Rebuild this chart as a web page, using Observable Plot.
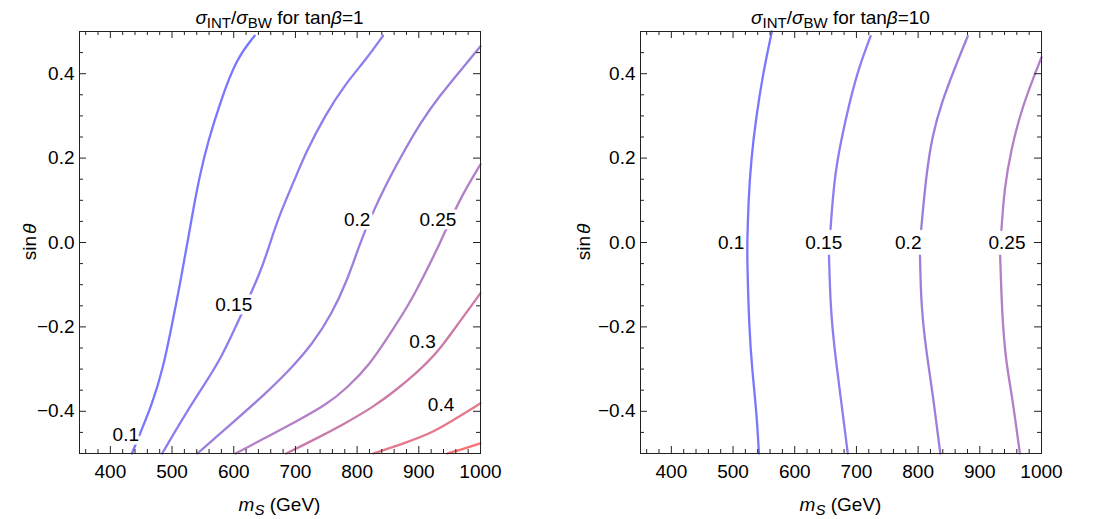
<!DOCTYPE html>
<html><head><meta charset="utf-8">
<script src="https://cdn.jsdelivr.net/npm/d3@7"></script>
<script src="https://cdn.jsdelivr.net/npm/@observablehq/plot@0.6"></script>
<style>
body{margin:0;background:#fff;}
#wrap{position:relative;width:1094px;height:519px;background:#fff;}
#wrap svg{position:absolute;top:0;}
</style></head><body><div id="wrap"></div>
<script>
// ---- tick values ----
const xTicks = [400, 500, 600, 700, 800, 900, 1000];
const xMinor = [360, 380, 420, 440, 460, 480, 520, 540, 560, 580, 620, 640, 660, 680, 720, 740, 760, 780, 820, 840, 860, 880, 920, 940, 960, 980];
const yTicks = [-0.4, -0.2, 0, 0.2, 0.4];
const yMinor = [-0.45, -0.35, -0.3, -0.25, -0.15, -0.1, -0.05, 0.05, 0.1, 0.15, 0.25, 0.3, 0.35, 0.45];
const levels = [0.1, 0.15, 0.2, 0.25, 0.3, 0.4, 0.5];

// ---- tanβ = 1 contours: [m_S (GeV), sinθ] ----
const L010 = [[435,-0.5],[448,-0.453],[468,-0.382],[486,-0.295],[499,-0.201],[513,-0.098],[525,0],[535,0.084],[545,0.159],[558,0.238],[578,0.332],[604,0.435],[634,0.49]];
const L015 = [[484,-0.5],[512,-0.43],[542,-0.359],[578,-0.28],[609,-0.181],[645,-0.066],[659,0],[676,0.072],[697,0.143],[717,0.214],[748,0.301],[779,0.372],[815,0.435],[842,0.49]];
const L020 = [[541,-0.5],[599,-0.426],[650,-0.36],[690,-0.303],[728,-0.24],[759,-0.169],[784,-0.09],[805,0],[822,0.06],[846,0.135],[872,0.206],[903,0.285],[934,0.348],[970,0.412],[1000,0.465]];
const L025 = [[603,-0.5],[655,-0.46],[700,-0.425],[750,-0.385],[785,-0.343],[820,-0.29],[850,-0.224],[885,-0.145],[910,-0.074],[935,0],[965,0.1],[1000,0.185]];
const L030 = [[685,-0.5],[728,-0.469],[779,-0.43],[826,-0.39],[862,-0.351],[898,-0.307],[931,-0.26],[965,-0.19],[1000,-0.12]];
const L040 = [[826,-0.5],[882,-0.473],[924,-0.449],[955,-0.422],[1000,-0.381]];
const L050 = [[946,-0.5],[975,-0.488],[1000,-0.476]];
const leftLabelText = ["0.1", "0.15", "0.2", "0.25", "0.3", "0.4"];
const leftLabelM = [425, 600, 800, 931, 906, 936];
const leftLabelS = [-0.457, -0.149, 0.054, 0.054, -0.235, -0.386];

// ---- tanβ = 10 contours ----
const R010 = [[542,-0.5],[538,-0.4],[531,-0.303],[526,-0.2],[523,-0.043],[523,0],[525,0.1],[529.5,0.2],[537.5,0.297],[548.5,0.4],[563,0.5]];
const R015a = [[658,0.032],[664,0.151],[674.5,0.238],[690,0.34],[705,0.419],[723,0.489]];
const R015b = [[686,-0.5],[674.5,-0.367],[664,-0.248],[658,-0.153],[655.5,-0.031]];
const R020a = [[805,0.032],[813,0.159],[823,0.254],[838.5,0.333],[859,0.412],[880.5,0.489]];
const R020b = [[836,-0.5],[823,-0.351],[813,-0.256],[805,-0.153],[803,-0.031]];
const R025a = [[935,0.03],[940,0.131],[950.5,0.218],[968,0.32],[1000,0.439]];
const R025b = [[965,-0.5],[952,-0.36],[942,-0.28],[936,-0.17],[933,-0.031]];
const rightLabelText = ["0.1", "0.15", "0.2", "0.25"];
const rightLabelM = [497, 647, 784, 944];
const rightLabelS = [0, 0, 0, 0];

const FONT = "'Liberation Sans', Arial, Helvetica, sans-serif";
const W = 547, H = 519, MT = 31, MB = 66;
const PH = H - MT - MB;
const lineColors = ["#7878ff", "#8a7ff0", "#9c7fdc", "#b37fc6", "#cc7aa6", "#e6788c", "#f87272"];
const frameColor = "#222";

function panel({pieces, lText, lM, lS, halo, marginLeft, marginRight}) {
  const PW = W - marginLeft - marginRight;
  const idx = lText.map((_, i) => i);
  return Plot.plot({
    width: W, height: H,
    marginTop: MT, marginBottom: MB, marginLeft, marginRight,
    style: {fontFamily: FONT, background: "white", color: "black"},
    x: {domain: [350, 1000], axis: null},
    y: {domain: [-0.5, 0.5], axis: null},
    color: {type: "ordinal", domain: levels, range: lineColors},
    marks: [
      ...pieces.map(p => Plot.line(p.pts, {x: d => d[0], y: d => d[1], stroke: () => p.lv, strokeWidth: 2.3, curve: "basis"})),
      Plot.text(idx, {x: i => lM[i], y: i => lS[i], text: i => lText[i], fontSize: 19, fill: "black",
        stroke: halo ? "white" : null, strokeWidth: halo ? 7 : 0, paintOrder: "stroke"}),
      Plot.ruleX(xMinor, {x: d => d, insetTop: PH - 4, stroke: frameColor}),
      Plot.ruleX(xMinor, {x: d => d, insetBottom: PH - 4, stroke: frameColor}),
      Plot.ruleX(xTicks, {x: d => d, insetTop: PH - 7, stroke: frameColor}),
      Plot.ruleX(xTicks, {x: d => d, insetBottom: PH - 7, stroke: frameColor}),
      Plot.ruleY(yMinor, {y: d => d, insetRight: PW - 4, stroke: frameColor}),
      Plot.ruleY(yMinor, {y: d => d, insetLeft: PW - 4, stroke: frameColor}),
      Plot.ruleY(yTicks, {y: d => d, insetRight: PW - 7, stroke: frameColor}),
      Plot.ruleY(yTicks, {y: d => d, insetLeft: PW - 7, stroke: frameColor}),
      Plot.frame({stroke: frameColor, strokeWidth: 1}),
      Plot.axisX(xTicks, {anchor: "bottom", tickSize: 0, tickPadding: 11, fontSize: 19, label: null, tickFormat: d => String(d)}),
      Plot.axisY(yTicks, {anchor: "left", tickSize: 0, tickPadding: 5, fontSize: 19, label: null, tickFormat: d3.format(".1f")})
    ]
  });
}

function decorate(svg, cx, yLabelX, tanb) {
  const g = d3.select(svg).append("g").attr("font-family", FONT).attr("fill", "black");
  const t = g.append("text").attr("x", cx).attr("y", 24).attr("text-anchor", "middle").attr("font-size", 19);
  t.append("tspan").attr("font-style", "italic").text("σ");
  t.append("tspan").attr("font-size", 15).attr("dy", 4).text("INT");
  t.append("tspan").attr("dy", -4).text("/");
  t.append("tspan").attr("font-style", "italic").text("σ");
  t.append("tspan").attr("font-size", 15).attr("dy", 4).text("BW");
  t.append("tspan").attr("dy", -4).text(" for tan");
  t.append("tspan").attr("font-style", "italic").text("β");
  t.append("tspan").text("=" + tanb);

  const xl = g.append("text").attr("x", cx).attr("y", 511).attr("text-anchor", "middle").attr("font-size", 19);
  xl.append("tspan").attr("font-style", "italic").text("m");
  xl.append("tspan").attr("font-style", "italic").attr("font-size", 15).attr("dy", 4).text("S");
  xl.append("tspan").attr("dy", -4).text(" (GeV)");

  const yl = g.append("text").attr("transform", `translate(${yLabelX},242) rotate(-90)`).attr("text-anchor", "middle").attr("dy", "0.35em").attr("font-size", 19);
  yl.append("tspan").text("sin");
  yl.append("tspan").attr("font-style", "italic").attr("dx", 2).text("θ");
}

const wrap = document.getElementById("wrap");

const left = panel({
  pieces: [
    {lv: 0.1, pts: L010}, {lv: 0.15, pts: L015}, {lv: 0.2, pts: L020}, {lv: 0.25, pts: L025},
    {lv: 0.3, pts: L030}, {lv: 0.4, pts: L040}, {lv: 0.5, pts: L050}
  ],
  lText: leftLabelText, lM: leftLabelM, lS: leftLabelS, halo: true,
  marginLeft: 79, marginRight: 67
});
left.style.left = "0px";
wrap.appendChild(left);
decorate(left, (79 + 480) / 2, 29, "1");

const right = panel({
  pieces: [
    {lv: 0.1, pts: R010}, {lv: 0.15, pts: R015a}, {lv: 0.15, pts: R015b},
    {lv: 0.2, pts: R020a}, {lv: 0.2, pts: R020b}, {lv: 0.25, pts: R025a}, {lv: 0.25, pts: R025b}
  ],
  lText: rightLabelText, lM: rightLabelM, lS: rightLabelS, halo: false,
  marginLeft: 93, marginRight: 53
});
right.style.left = "547px";
wrap.appendChild(right);
decorate(right, (93 + 494) / 2, 36, "10");
</script></body></html>
